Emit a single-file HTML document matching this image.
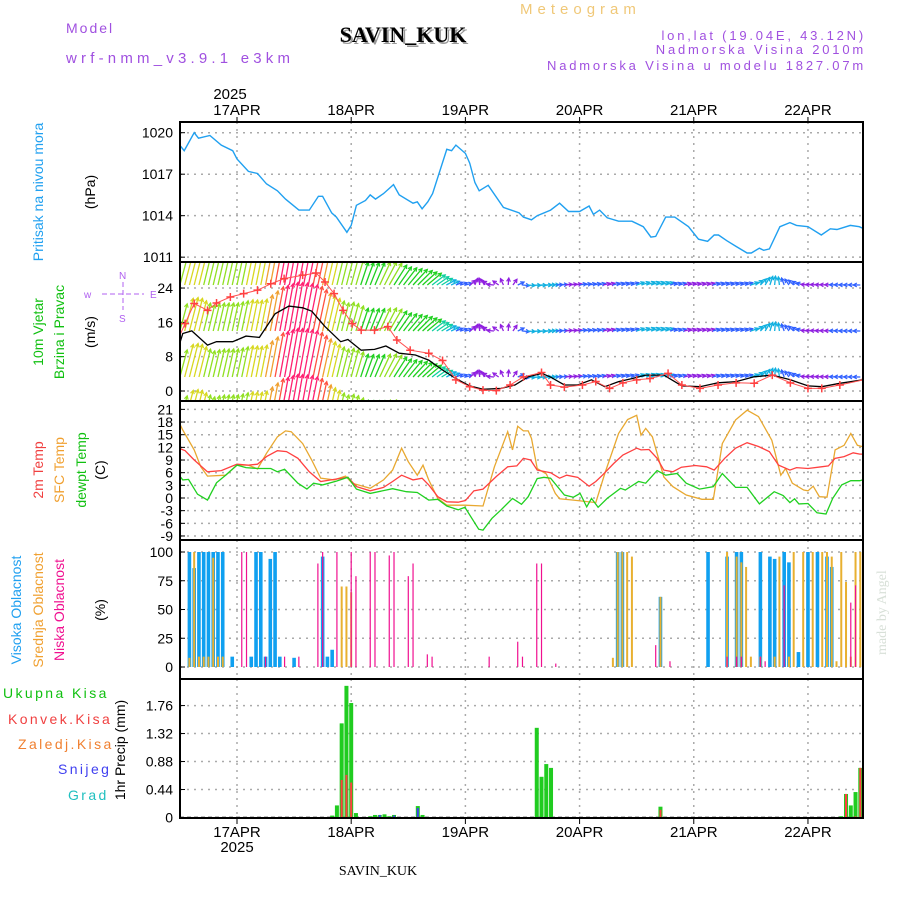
<!DOCTYPE html>
<html><head><meta charset="utf-8"><style>
html,body{margin:0;padding:0;background:#fff}
svg{display:block}
text{font-family:"Liberation Sans",sans-serif}
</style></head><body>
<svg id="chart" width="900" height="900" viewBox="0 0 900 900" xmlns="http://www.w3.org/2000/svg">
<text x="66" y="33" font-size="14" fill="#a050e0" letter-spacing="2">Model</text>
<text x="66" y="63" font-size="15" fill="#a050e0" letter-spacing="4.2">wrf-nmm_v3.9.1 e3km</text>
<text x="520" y="14" font-size="15" fill="#f0c878" letter-spacing="5">Meteogram</text>
<text x="405" y="44" font-size="22" font-weight="bold" fill="#999" text-anchor="middle" style="font-family:'Liberation Serif',serif">SAVIN_KUK</text>
<text x="403" y="42" font-size="22" font-weight="bold" fill="#000" text-anchor="middle" style="font-family:'Liberation Serif',serif">SAVIN_KUK</text>
<text x="866" y="40" font-size="13" fill="#a050e0" text-anchor="end" letter-spacing="2.8">lon,lat (19.04E, 43.12N)</text>
<text x="866" y="54" font-size="13" fill="#a050e0" text-anchor="end" letter-spacing="2.8">Nadmorska Visina 2010m</text>
<text x="866" y="70" font-size="13" fill="#a050e0" text-anchor="end" letter-spacing="2.8">Nadmorska Visina u modelu 1827.07m</text>
<text x="230" y="99" font-size="15" text-anchor="middle">2025</text>
<text x="237" y="852" font-size="15" text-anchor="middle">2025</text>
<text x="378" y="875" font-size="14" text-anchor="middle" style="font-family:'Liberation Serif',serif">SAVIN_KUK</text>
<text transform="translate(886,655) rotate(-90)" font-size="14" fill="#d8e0d8" style="font-family:'Liberation Serif',serif">made by Angel</text>
<text transform="translate(43,192) rotate(-90)" font-size="14" fill="#20a0f0" text-anchor="middle">Pritisak na nivou mora</text>
<text transform="translate(95,192) rotate(-90)" font-size="14" text-anchor="middle">(hPa)</text>
<text transform="translate(43,332) rotate(-90)" font-size="14" fill="#10c010" text-anchor="middle">10m Vjetar</text>
<text transform="translate(64,332) rotate(-90)" font-size="14" fill="#10c010" text-anchor="middle">Brzina i Pravac</text>
<text transform="translate(95,332) rotate(-90)" font-size="14" text-anchor="middle">(m/s)</text>
<g font-size="10" fill="#b060f0">
<text x="84" y="298">w</text><text x="150" y="298">E</text><text x="119" y="322">S</text><text x="119" y="279">N</text>
<line x1="102" y1="294" x2="144" y2="294" stroke="#b060f0" stroke-dasharray="5,3"/>
<line x1="123" y1="282" x2="123" y2="310" stroke="#b060f0" stroke-dasharray="5,3"/>
</g>
<text transform="translate(43,470) rotate(-90)" font-size="14" fill="#f04040" text-anchor="middle">2m Temp</text>
<text transform="translate(64,470) rotate(-90)" font-size="14" fill="#f0a030" text-anchor="middle">SFC Temp</text>
<text transform="translate(86,470) rotate(-90)" font-size="14" fill="#10c010" text-anchor="middle">dewpt Temp</text>
<text transform="translate(105,470) rotate(-90)" font-size="14" text-anchor="middle">(C)</text>
<text transform="translate(21,610) rotate(-90)" font-size="14" fill="#20a0f0" text-anchor="middle">Visoka Oblacnost</text>
<text transform="translate(43,610) rotate(-90)" font-size="14" fill="#f0a030" text-anchor="middle">Srednja Oblacnost</text>
<text transform="translate(64,610) rotate(-90)" font-size="14" fill="#f01090" text-anchor="middle">Niska Oblacnost</text>
<text transform="translate(105,610) rotate(-90)" font-size="14" text-anchor="middle">(%)</text>
<text x="3" y="698" font-size="14" fill="#10c010" letter-spacing="2.4">Ukupna Kisa</text>
<text x="8" y="724" font-size="14" fill="#f04040" letter-spacing="2.4">Konvek.Kisa</text>
<text x="18" y="749" font-size="14" fill="#f08030" letter-spacing="2.4">Zaledj.Kisa</text>
<text x="58" y="774" font-size="14" fill="#4040f0" letter-spacing="2.4">Snijeg</text>
<text x="68" y="800" font-size="14" fill="#20c0c0" letter-spacing="2.4">Grad</text>
<text transform="translate(125,750) rotate(-90)" font-size="14" text-anchor="middle">1hr Precip (mm)</text>
<g id="plots"></g>
</svg>
<script>
const dayLabels=["17APR","18APR","19APR","20APR","21APR","22APR"];
const presT=[-12.6,-11.1,-9,-8.1,-5.7,-3.3,-0.9,0,2.4,4.3,6.2,8.5,10.2,13,15.2,17.1,18,19.9,20.9,23.1,24,25.1,27,28,29.1,30.8,32.9,34.1,37,37.9,38.9,40.1,41.1,44.1,45.1,46,48,48.9,50,50.9,52.8,56,59.3,60.2,61.9,63.1,65.9,67.8,69.7,72,74,74.9,76.2,77.8,80.2,83,85.4,87,88,90.1,92,94.9,97,98.9,100.3,101.2,102.9,104.8,107.2,108.1,109.8,110.7,111.9,114.1,116.2,117.6,120,122.8,124.7,126.1,128.9,130.8,132.1];
const presV=[1019.35,1018.7,1020,1019.6,1019.8,1019.1,1018.7,1018.1,1017.2,1017.05,1016.3,1015.8,1015.2,1014.4,1014.4,1015.4,1015.4,1014.2,1013.9,1012.8,1013.3,1014.75,1015.1,1015.5,1015.2,1015.6,1016.25,1015.5,1014.9,1015,1014.5,1015,1015.6,1018.8,1018.7,1019.1,1018.5,1017.8,1016.4,1015.8,1016.2,1014.6,1014.2,1013.9,1013.7,1014,1014.4,1014.9,1014.3,1014.3,1014.7,1014.1,1014.4,1013.85,1013.6,1013.6,1013.2,1012.45,1012.5,1013.9,1013.9,1013.2,1012.3,1012.15,1012.6,1012.6,1012.2,1011.8,1011.3,1011.3,1011.65,1011.5,1011.6,1013.2,1013.5,1013.3,1013.2,1012.6,1013.05,1013,1013.3,1013.2,1013];
const presTicks=[1011,1014,1017,1020];
const windT=[-12.6,-11.4,-9.5,-6.2,-4.3,-0.9,1.9,4.7,8,10.9,13.8,15.7,18.5,21.8,23.3,26.1,28.9,31.3,34.1,37.5,40.3,43.2,46,48.9,51.7,55.5,58.4,61.2,64.1,66,68.8,71.6,74.5,77.3,80.2,83,85.9,89.7,93.5,97.3,101.1,104.9,108.7,112.5,116.3,120,122.9,126.7,132.1];
const windV=[9.1,13.4,14,10.7,11.5,11.5,12.8,12.5,18,19.8,19.4,18.6,15,11.5,12,9.5,9.7,10.5,8.8,8.4,7.2,4.9,2.9,1.2,0.4,0.6,1.4,3.3,4.1,3.2,1.4,1.4,2.6,1,2.2,2.9,3.7,3.7,1.2,1,1.9,2.2,3.3,3.7,2.6,1.2,1,1.8,2.7];
const gustT=[-12.6,-10.9,-9,-6.2,-4.3,-1.4,1.4,4.3,7.1,9.9,13.8,16.6,18.5,20.4,22.3,24.2,26.1,28.9,31.7,33.6,36.4,40.3,43.2,46,48.9,51.7,54.5,57.4,60.2,64,65.9,68.8,72.6,75.4,78.3,81.1,84,86.8,90.6,93.5,97.3,101.1,104.9,108.7,112.5,116.3,120,122.9,126.7,132.1];
const gustV=[11.5,15.7,20.4,18.8,20.5,21.9,22.7,23.5,25,26.2,27,27.5,25.4,22.7,18.8,15.7,14.2,14.2,15,11.9,9.5,8.8,7.1,2.6,1,0.2,0.1,1.4,3.3,4.3,1.4,0.9,1.4,2.2,0.6,1.9,2.6,2.9,4.1,1.4,0.6,1.4,1.9,1.8,3.7,1.9,0.6,0.6,1.4,2.7];
const dirT=[-12,0,12,24,30,36,42,48,54,60,72,84,96,108,120,132];
const dirV=[15,12,10,15,25,40,55,75,-85,95,80,70,75,70,-85,-90];
const windTicks=[0,8,16,24];
const t2T=[-12.6,-10.9,-9,-6.2,-3.3,0,2.4,4.3,6.2,8.5,10.4,12.8,15.2,17.6,20.4,23.3,25.1,28,30.8,32.7,34.6,37,38.9,40.3,42.2,44.1,46.5,48,49.8,51.7,54.5,56.9,58.8,60.2,61.7,63.1,65.9,67.8,69.3,71.6,74,75.4,76.8,79.2,81.1,84,84.9,86.6,88.3,89.7,91.6,93.4,96.3,98.7,100.3,102.5,104.8,107.2,109.6,111.9,113.8,116.2,117.6,120,122.8,124.3,125.7,127.6,129.5,130.9,132.1];
const t2V=[12,11.2,9,6.2,6.5,8,7.8,8,9.8,11.2,11,9.4,6.2,3.9,4.4,4.9,2.7,1.7,2.5,3.9,5.4,4.3,4.7,3.1,0.3,-0.9,-1,-0.6,1.7,2.1,5.1,7.4,7.6,9.4,9,6.6,6,4.7,5.4,4.9,2.8,3.9,5.4,8.2,10.2,11.8,11.4,11.5,9.4,6.6,6.2,7.3,7.7,7.4,6.6,9.4,11.8,13.1,12.2,11,7.8,6.6,7.2,7,7.4,7.6,9.4,9.8,10.7,10.4,10.4];
const sfcT=[-12.6,-11.4,-9,-7.6,-6.2,-2.4,0,2.4,4.3,6.2,8.5,10.2,11.4,13.8,15.7,17.6,20.4,22.8,24.2,28,30.8,32.7,34.6,36,37.9,39.1,40.3,42.2,44.1,47.9,51.7,54.1,56.9,57.9,59,60.2,61.2,61.9,63.1,65,66.9,67.8,70.7,75.4,77.3,80.2,82.1,84,84.9,85.9,87.3,89.7,91.6,94.4,97.7,100.1,102,104.8,107.2,109.6,112.4,114.3,115.3,116.7,119.1,120,121.1,122.4,124,125.7,127.6,129,130.4,132.1];
const sfcV=[18.9,16.1,11.4,7.4,5.2,5.4,7.8,7.8,6.9,10.6,14.5,15.9,15.7,12.9,9,4.7,4.3,5.2,3.5,2.3,4.3,6.6,11.8,8.6,5.4,7.8,4.3,-0.1,-1.7,-1.7,-1.9,7.4,15.7,11.4,17,15.9,15.9,14.1,7,5.7,1.1,-0.2,-0.5,-1.1,5.8,15.3,18.6,19.6,14.9,16.5,14.5,5,2.7,0.7,-0.3,-0.3,12.9,18.5,20.8,19.3,13.7,5.4,7,3.5,1.9,1.7,2.8,0.3,0.2,11.4,12.5,15.3,12.5,12];
const dewT=[-12.6,-11.4,-10.2,-8.3,-6.2,-4.3,-2.4,0,1.9,4.3,7.1,8.5,10,12.8,14.7,16.1,18,20.9,23.3,25.1,28,32.7,35.6,37.9,40.3,42.2,44.1,46.5,47.9,50.8,51.7,53.6,55.5,57.9,59.8,61.2,63.1,64.5,65.9,68.8,70.7,72.1,73.5,74.5,75.9,77.8,80.6,81.6,84.4,85.9,88.3,90.1,92.5,94.4,97.2,100.1,102,104.8,107.2,109.8,112.9,114.8,116.2,117.2,118.1,120,121.9,123.8,125.2,127.1,129,130.9,132.1];
const dewV=[6,4.3,4.4,0.9,-0.5,3.6,5.4,7.8,7.2,7,7,6.2,6.8,3.5,2.1,3.5,3.1,4,4.9,2.1,1.1,2.2,1.5,1.3,-0.5,-0.3,-1.9,-2.8,-2.2,-7.4,-7.6,-4.8,-2.8,-0.1,-1.5,0.3,4.6,4.9,4.7,0.7,0.2,1.1,-2.1,-0.1,-2.2,-0.1,2.3,1.9,3.9,3.5,6.5,5.4,5.8,3.5,2.1,2.7,5.8,2.5,2.5,-1.4,1.5,0.6,-1.1,-0.2,-1.4,-1.3,-3.5,-3.8,-0.1,3.1,4.1,4.1,4.5];
const tempTicks=[-9,-6,-3,0,3,6,9,12,15,18,21];
const highH=[-10,-9,-8,-7,-6,-5,-4,-3,-1,3,4,5,6,7,8,9,12,18,19,20,80,81,89,99,103,105,106,110,112,113,115,116,118,120,122,124,125,132];
const highV=[100,86,100,100,100,100,100,100,9,9,100,100,9,94,100,9,8,96,9,15,100,100,61,100,96,100,100,100,96,94,100,91,13,100,100,96,87,100];
const midH=[-10,-9,-8,-7,-6,-5,-4,-3,22,23,24,79,80,81,82,83,89,103,105,106,107,108,110,113,114,116,117,119,121,123,124,125,126,127,128,129,130,131];
const midV=[8,100,9,9,9,95,9,9,70,70,65,8,100,100,100,96,61,100,96,91,87,9,9,9,96,9,100,100,100,100,100,96,5,100,74,9,100,100];
const lowH=[1,2,6,10,13,17,18,21,24,25,28,29,32,33,36,37,40,41,53,59,60,63,64,67,88,91,103,105,106,110,111,115,129,130];
const lowV=[100,100,9,9,9,90,100,100,100,79,100,100,97,100,79,90,11,9,9,22,9,90,90,3,19,5,9,9,9,9,5,71,56,71];
const cloudTicks=[0,25,50,75,100];
const rainH=[20,21,22,23,24,25,28,29,30,31,32,33,38,39,63,64,65,66,89,127,128,129,130,131,132];
const rainTotal=[0.03,0.19,1.48,2.07,1.8,0.07,0.02,0.04,0.04,0.05,0.02,0.04,0.18,0.04,1.41,0.64,0.84,0.78,0.17,0.02,0.37,0.19,0.4,0.78,1.29];
const rainConv=[0,0,0.59,0.67,0.55,0,0,0,0,0,0,0,0.02,0,0,0,0,0,0.12,0,0.37,0,0.02,0.78,1.29];
const snowH=[30,33,38];
const snowV=[0.04,0.03,0.15];
const precipTicks=[0.44,0.88,1.32,1.76];
const precipTickLabels=["0.44","0.88","1.32","1.76"];

const NS="http://www.w3.org/2000/svg";
const root=document.getElementById('plots');
const L=180,R=863;
const X=h=>237+h*4.758;
const yP=p=>132.7+(1020-p)*13.83;
const yW=v=>391-v*4.29;
const yT=t=>498-t*4.22;
const yC=c=>667-c*1.15;
const yR=r=>817.5-r*63.6;
const panels=[[122,262],[262,401],[401,540],[540,679],[679,818]];
function mk(tag,attrs,parent){const e=document.createElementNS(NS,tag);for(const k in attrs)e.setAttribute(k,attrs[k]);(parent||root).appendChild(e);return e;}
const defs=mk('defs',{});
panels.forEach((p,i)=>{const c=mk('clipPath',{id:'clip'+i},defs);mk('rect',{x:L,y:p[0],width:R-L,height:p[1]-p[0]},c);});
function interp(ts,vs,t){if(t<=ts[0])return vs[0];for(let i=1;i<ts.length;i++){if(t<=ts[i]){const f=(t-ts[i-1])/(ts[i]-ts[i-1]);return vs[i-1]+f*(vs[i]-vs[i-1]);}}return vs[vs.length-1];}
function hgrid(vals,yf){vals.forEach(v=>{const l=mk('line',{x1:L,x2:R,y1:yf(v),y2:yf(v),stroke:'#aaa','stroke-width':1.5,'stroke-dasharray':'2,5'});

});}
function ylabels(vals,yf,labels,name){vals.forEach((v,k)=>{const t=mk('text',{x:173,y:yf(v)+5,'font-size':14,'text-anchor':'end'});t.textContent=labels?labels[k]:String(v);


mk('line',{x1:L,x2:L+5,y1:yf(v),y2:yf(v),stroke:'#000'});});}
panels.forEach((p,i)=>{dayLabels.forEach((d,k)=>{const l=mk('line',{x1:X(24*k),x2:X(24*k),y1:p[0],y2:p[1],stroke:'#aaa','stroke-width':1.5,'stroke-dasharray':'2,5'});

});});
hgrid(presTicks,yP);hgrid(windTicks,yW);hgrid(tempTicks,yT);hgrid(cloudTicks,yC);hgrid(precipTicks,yR);
mk('line',{x1:L,x2:R,y1:817.5,y2:817.5,stroke:'#000','stroke-width':1.5,'stroke-dasharray':'4,3'});
ylabels(presTicks,yP,null,'pressure-tick');ylabels(windTicks,yW,null,'wind-tick');ylabels(tempTicks,yT,null,'temp-tick');ylabels(cloudTicks,yC,null,'cloud-tick');
ylabels([0].concat(precipTicks),yR,["0"].concat(precipTickLabels),'precip-tick');
dayLabels.forEach((d,k)=>{const a=mk('text',{x:X(24*k),y:115,'font-size':15,'text-anchor':'middle'});a.textContent=d;


const b=mk('text',{x:X(24*k),y:837,'font-size':15,'text-anchor':'middle'});b.textContent=d;


mk('line',{x1:X(24*k),x2:X(24*k),y1:122,y2:117,stroke:'#000'});
mk('line',{x1:X(24*k),x2:X(24*k),y1:818,y2:824,stroke:'#000'});});
function line(ts,vs,yf,color,clip,name,w){const pts=ts.map((t,i)=>X(t).toFixed(1)+','+yf(vs[i]).toFixed(1)).join(' ');
const pl=mk('polyline',{points:pts,fill:'none',stroke:color,'stroke-width':w||1.3,'clip-path':'url(#clip'+clip+')'});

return pl;}
line(presT,presV,yP,'#20a0f0',0,'pressure-line',1.4);
function wcol(s){if(s<1.5)return'#9020e0';if(s<3)return'#3060ff';if(s<5)return'#10b0e0';if(s<7)return'#10d0a0';if(s<10)return'#20d020';if(s<12.5)return'#90e020';if(s<14.5)return'#d8d820';if(s<16.5)return'#f0a030';if(s<18.5)return'#ff5040';return'#ff2070';}
const wg=mk('g',{'clip-path':'url(#clip1)'});


[285,331,377,423].forEach(base=>{for(let h=-12;h<=131;h++){const s=interp(windT,windV,h);const d=interp(dirT,dirV,h)*Math.PI/180;const len=Math.max(7,s*2.5);
const x0=X(h),x1=x0+len*Math.sin(d),y1=base-len*Math.cos(d);const c=wcol(s);
mk('line',{x1:x0,y1:base,x2:x1,y2:y1,stroke:c,'stroke-width':1.3},wg);
const a=Math.atan2(y1-base,x1-x0);
mk('polyline',{points:`${x1-4*Math.cos(a-0.5)},${y1-4*Math.sin(a-0.5)} ${x1},${y1} ${x1-4*Math.cos(a+0.5)},${y1-4*Math.sin(a+0.5)}`,fill:'none',stroke:c,'stroke-width':1.2},wg);}});
line(windT,windV,yW,'#000',1,'wind-speed-line',1.3);
line(gustT,gustV,yW,'#ff5050',1,'wind-gust-line',1);
gustT.forEach((t,i)=>{const x=X(t),y=yW(gustV[i]);const g=mk('path',{d:`M${x-4},${y}H${x+4}M${x},${y-4}V${y+4}`,stroke:'#ff4040','stroke-width':1.5,'clip-path':'url(#clip1)'});

});
line(sfcT,sfcV,yT,'#e8a830',2,'sfc-temp-line',1.3);
line(t2T,t2V,yT,'#ff4040',2,'temp-2m-line',1.3);
line(dewT,dewV,yT,'#20d020',2,'dewpoint-line',1.3);
function bars(hs,vs,color,w,name){hs.forEach((h,i)=>{const r=mk('rect',{x:X(h)-w/2,y:yC(vs[i]),width:w,height:yC(0)-yC(vs[i]),fill:color,'clip-path':'url(#clip3)'});

});}
bars(highH,highV,'#10a0f0',3.6,'cloud-high-bar');
bars(midH,midV,'#e8b030',2,'cloud-mid-bar');
bars(lowH,lowV,'#f01090',1.2,'cloud-low-bar');
rainH.forEach((h,i)=>{const r=mk('rect',{x:X(h)-2,y:yR(rainTotal[i]),width:4,height:yR(0)-yR(rainTotal[i]),fill:'#20cc20','clip-path':'url(#clip4)'});


if(rainConv[i]>0){const c=mk('rect',{x:X(h)-1,y:yR(rainConv[i]),width:2,height:yR(0)-yR(rainConv[i]),fill:'#ff4040','clip-path':'url(#clip4)'});

}});
snowH.forEach((h,i)=>{const r=mk('rect',{x:X(h)-1,y:yR(snowV[i]),width:2,height:yR(0)-yR(snowV[i]),fill:'#4040f0'});

});
panels.forEach((p,i)=>{const f=mk('rect',{x:L,y:p[0],width:R-L,height:p[1]-p[0],fill:'none',stroke:'#000','stroke-width':2});

});
</script>
</body></html>
